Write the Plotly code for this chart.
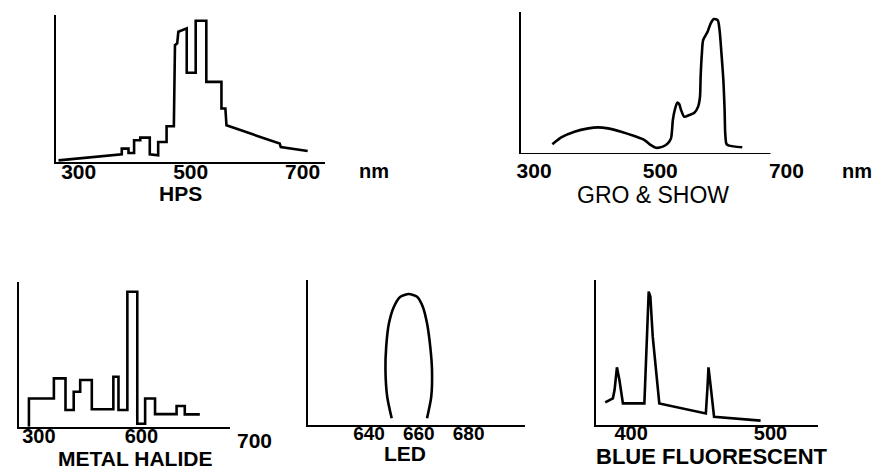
import plotly.graph_objects as go

W, H = 881, 472

# ---------------- data (wavelength nm, relative intensity 0-100) ----------------
hps_nm = [264, 377, 377, 389, 389, 399, 399, 410, 410, 427, 427, 440, 442, 442, 457, 457, 470, 472,
          476, 478, 491, 493, 493, 507, 509, 509, 528, 528, 555, 555, 562, 564, 659, 661, 709]
hps_val = [1.1, 5.2, 9.1, 9.1, 6.1, 6.1, 14.8, 14.8, 16.6, 16.6, 5.2, 4.5, 4.5, 13.6, 13.6, 24.3, 24.3, 79.5,
           80.7, 88.6, 90.9, 90.9, 60.7, 60.7, 60.7, 96.1, 96.1, 54.5, 54.5, 36.4, 36.4, 25.0, 12.5, 10.2, 7.5]

gro_nm = [329, 343, 364, 386, 401, 417, 438, 459, 475, 485, 493, 504, 512, 517, 520, 523, 527, 530, 533, 538,
          546, 554, 560, 563, 564, 566, 568, 575, 580, 585, 591, 594, 597, 600, 602, 603, 605, 609, 630]
gro_val = [6.8, 11.7, 15.7, 18.0, 18.7, 18.0, 15.7, 12.6, 9.8, 6.3, 4.4, 5.2, 7.5, 11.0, 23.9, 30.9, 36.1, 35.1,
           30.9, 26.2, 27.4, 29.0, 33.3, 40.3, 54.3, 70.7, 80.1, 85.9, 91.8, 94.8, 94.1, 87.1, 70.7, 52.0, 30.9,
           14.5, 7.0, 5.9, 4.7]

mh_nm = [271, 271, 344, 378, 402, 421, 455, 518, 533, 559, 588, 611, 640, 703, 727, 771]
mh_val = [0, 19.5, 33.3, 11.5, 24.1, 32.2, 12.0, 34.5, 11.5, 93.1, 2.0, 19.5, 8.7, 14.3, 8.5, 8.5]

led_nm = [649.1, 647.3, 646.6, 646.9, 648.0, 650.0, 652.6, 656.0, 659.3, 661.6, 663.3, 664.6, 665.3, 665.0, 663.3]
led_val = [4.6, 19.5, 37.9, 54.0, 70.1, 81.6, 88.5, 90.3, 88.5, 81.6, 70.1, 54.0, 37.9, 19.5, 4.6]

bf_nm = [381.4, 386.9, 388.1, 389.8, 391.6, 394.1, 409.5, 411.2, 412.6, 413.8, 415.5, 420.2, 453.6, 454.8,
         455.5, 457.1, 459.5, 492.9]
bf_val = [15.6, 18.4, 24.1, 39.8, 31.0, 14.9, 14.9, 60.9, 92.0, 88.5, 60.9, 14.9, 8.0, 26.4, 39.8, 26.4, 5.7, 3.0]

hps_ticks = [300, 500, 700]
gro_ticks = [300, 500, 700]
mh_ticks = [300, 600]
led_ticks = [640, 660, 680]
bf_ticks = [400, 500]

titles = ["HPS", "GRO & SHOW", "METAL HALIDE", "LED", "BLUE FLUORESCENT"]

# ---------------- layout geometry (pixels) ----------------
FONT = "Liberation Sans"
panels = [
    dict(nm=hps_nm, val=hps_val, ticks=hps_ticks, shape="linear", x0=52, x1=322, yt=15, yb=162,
         anchors=((300, 75), (700, 300)), tsize=21, axis_end=None, standoff=-10),
    dict(nm=gro_nm, val=gro_val, ticks=gro_ticks, shape="spline", x0=519, x1=805, yt=11.7, yb=154,
         anchors=((300, 532.5), (700, 786)), tsize=21, axis_end=770, standoff=2),
    dict(nm=mh_nm, val=mh_val, ticks=mh_ticks, shape="hv", x0=15, x1=227, yt=281.7, yb=426.7,
         anchors=((300, 35), (600, 138)), tsize=20, axis_end=None, standoff=-10),
    dict(nm=led_nm, val=led_val, ticks=led_ticks, shape="spline", x0=305, x1=523, yt=280, yb=425,
         anchors=((640, 366.7), (680, 466.7)), tsize=19, axis_end=None, standoff=-10),
    dict(nm=bf_nm, val=bf_val, ticks=bf_ticks, shape="linear", x0=595, x1=818, yt=280, yb=425,
         anchors=((400, 630), (500, 770)), tsize=20, axis_end=None, standoff=-11),
]

fig = go.Figure()
shapes = []
for i, p in enumerate(panels, start=1):
    (na, pa), (nb, pb) = p["anchors"]
    k = (pb - pa) / (nb - na)
    r0 = na + (p["x0"] - pa) / k
    r1 = na + (p["x1"] - pa) / k
    sfx = "" if i == 1 else str(i)
    fig.add_trace(go.Scatter(x=p["nm"], y=p["val"], mode="lines",
                             line=dict(color="black", width=2.6, shape=p["shape"], smoothing=0.7),
                             xaxis="x" + sfx, yaxis="y" + sfx, showlegend=False, hoverinfo="skip"))
    xa = dict(domain=[p["x0"] / W, p["x1"] / W], range=[r0, r1], anchor="y" + sfx,
              showgrid=False, zeroline=False, ticks="", ticklen=0, ticklabelstandoff=p["standoff"],
              tickvals=p["ticks"], ticktext=[str(t) for t in p["ticks"]],
              tickfont=dict(family=FONT, size=p["tsize"], color="black", weight="bold"),
              showline=p["axis_end"] is None, linecolor="black", linewidth=2)
    ya = dict(domain=[1 - p["yb"] / H, 1 - p["yt"] / H], range=[0, 100], anchor="x" + sfx,
              showgrid=False, zeroline=False, showticklabels=False, ticks="",
              showline=True, linecolor="black", linewidth=2)
    fig.layout["xaxis" + sfx] = xa
    fig.layout["yaxis" + sfx] = ya
    if p["axis_end"] is not None:
        xe = na + (p["axis_end"] - pa) / k
        shapes.append(dict(type="line", xref="x" + sfx, yref="y" + sfx, x0=r0, x1=xe, y0=0, y1=0,
                           line=dict(color="black", width=2)))

def ann(text, x, y, size, bold=True):
    return dict(text=text, x=x / W, y=1 - y / H, xref="paper", yref="paper", showarrow=False,
                xanchor="center", yanchor="middle",
                font=dict(family=FONT, size=size, color="black", weight="bold" if bold else "normal"))

annotations = [
    ann(titles[0], 177.5, 193, 21),
    ann(titles[1], 652, 195, 23, bold=False),
    ann(titles[2], 132, 458, 21),
    ann(titles[3], 402.5, 453, 21),
    ann(titles[4], 711.5, 456, 22),
    ann("nm", 372, 171, 20),
    ann("nm", 857, 171, 20),
    ann("700", 252, 440, 21),
]

fig.update_layout(width=W, height=H, margin=dict(l=0, r=0, t=0, b=0),
                  paper_bgcolor="white", plot_bgcolor="white",
                  shapes=shapes, annotations=annotations)

fig.write_html("out.html", config={"displayModeBar": False, "staticPlot": True},
               post_script="document.body.style.margin='0';document.body.style.padding='0';")
